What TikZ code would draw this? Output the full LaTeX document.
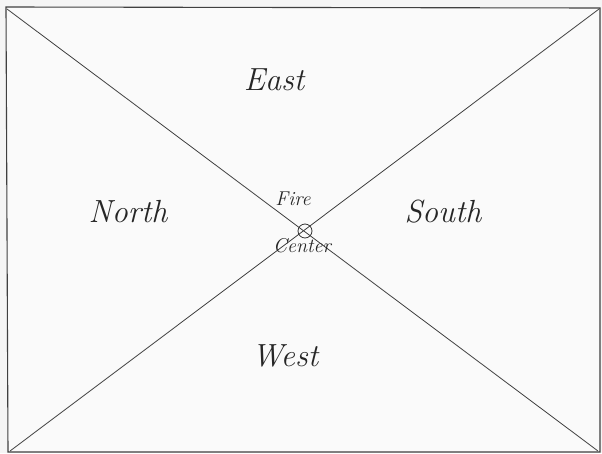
\documentclass[tikz,border=0pt]{standalone}
\usepackage{fontspec}
\begin{document}
\begin{tikzpicture}[x=1pt,y=-1pt,
  hand/.style={font=\itshape\fontsize{32}{36}\selectfont, text=black!85},
  smallhand/.style={font=\itshape\fontsize{20}{24}\selectfont, text=black!85},
  edge/.style={draw=black!75, line width=0.8pt}]
\fill[black!4] (0,0) rectangle (602,453);
\useasboundingbox (0,0) rectangle (602,453);
\coordinate (tl) at (6,7);
\coordinate (tr) at (600,8);
\coordinate (br) at (600,452);
\coordinate (bl) at (8,452);
\fill[black!2] (tl) -- (tr) -- (br) -- (bl) -- cycle;
\draw[edge, line width=1.1pt] (tl) -- (tr) -- (br) -- (bl) -- cycle;
\draw[edge] (7,9) -- (598,451);
\draw[edge] (599,9) -- (10,451);
\node[circle, draw=black!80, line width=0.8pt, minimum size=14pt, inner sep=0pt] (fc) at (305,231) {};
\node[hand] (east) at (274,80) {East};
\node[hand] (north) at (128,212) {North};
\node[hand] (south) at (443,212) {South};
\node[hand] (west) at (285,356) {West};
\node[smallhand] (fire) at (293,199) {Fire};
\node[smallhand] (center) at (302,246) {Center};
\end{tikzpicture}
\end{document}
